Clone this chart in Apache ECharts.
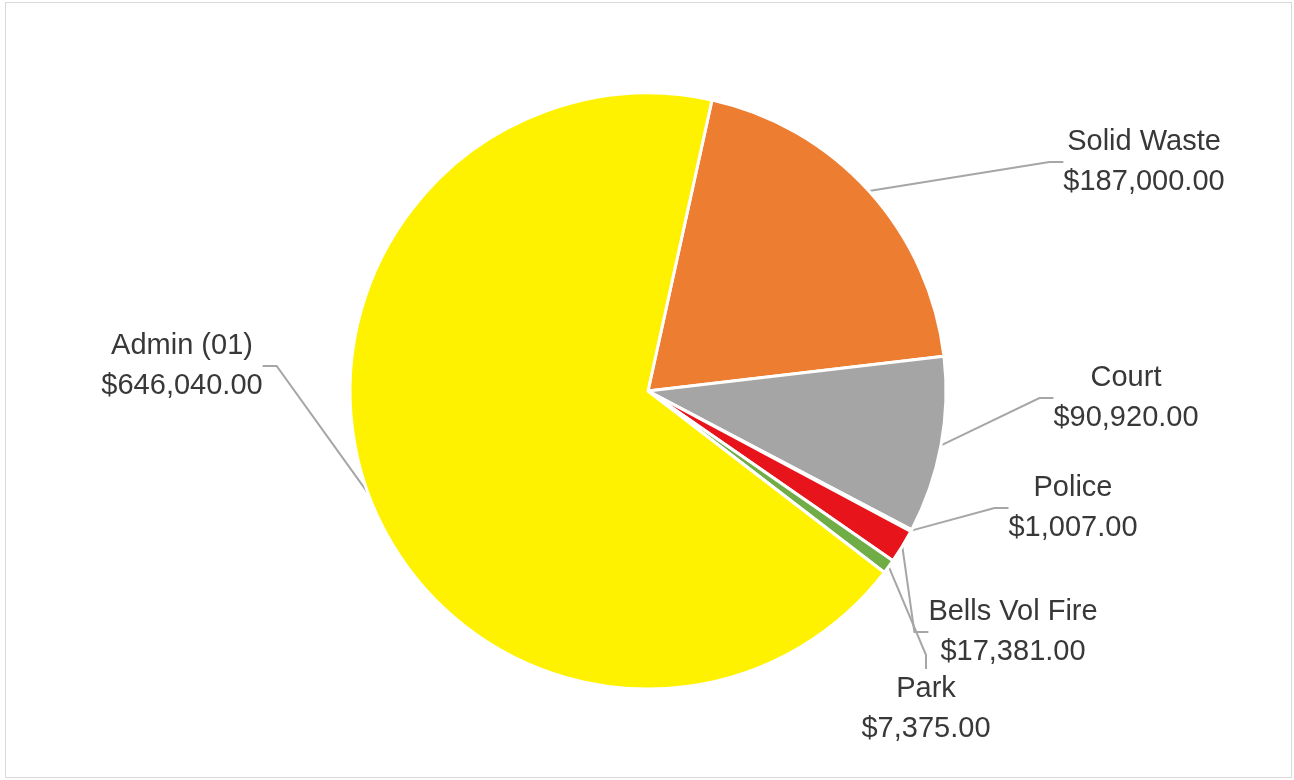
<!DOCTYPE html>
<html>
<head>
<meta charset="utf-8">
<script src="https://cdn.jsdelivr.net/npm/echarts@6/dist/echarts.min.js"></script>
<style>
  html, body { margin: 0; padding: 0; background: #ffffff; }
  #wrap { position: relative; width: 1294px; height: 780px; }
  #chart { position: absolute; left: 0; top: 0; width: 1294px; height: 780px; }
  #frame { position: absolute; left: 5px; top: 2px; width: 1285px; height: 774px; border: 1px solid #d9d9d9; pointer-events: none; }
</style>
</head>
<body>
<div id="wrap">
  <div id="chart"></div>
  <div id="frame"></div>
</div>
<script>
// Data (clockwise from the top, as drawn)
const categories = ['Solid Waste', 'Court', 'Police', 'Bells Vol Fire', 'Park', 'Admin (01)'];
const values = [187000, 90920, 1007, 17381, 7375, 646040];
const colors = ['#ED7D31', '#A5A5A5', '#4472C4', '#E8141B', '#70AD47', '#FFF200'];

// Label anchor positions (layout only)
const labelPos = [
  [1144, 162],
  [1126, 398],
  [1073, 508],
  [1013, 632],
  [926, 709],
  [182, 366]
];

function money(v) {
  return '$' + v.toLocaleString('en-US', { minimumFractionDigits: 2, maximumFractionDigits: 2 });
}

const chart = echarts.init(document.getElementById('chart'), null, { renderer: 'canvas' });
chart.setOption({
  backgroundColor: '#ffffff',
  animation: false,
  series: [{
    type: 'pie',
    center: [648, 391],
    radius: 298,
    startAngle: 77.6,
    clockwise: true,
    avoidLabelOverlap: false,
    data: categories.map((c, i) => ({
      name: c,
      value: values[i],
      itemStyle: { color: colors[i] }
    })),
    itemStyle: { borderColor: '#ffffff', borderWidth: 3 },
    label: {
      show: true,
      formatter: p => p.name + '\n' + money(p.value),
      fontFamily: 'Liberation Sans, Arial, sans-serif',
      fontSize: 29,
      lineHeight: 40,
      color: '#383838',
      align: 'center'
    },
    labelLine: {
      show: true,
      length: 20,
      length2: 14,
      smooth: false,
      lineStyle: { color: '#A6A6A6', width: 2 }
    },
    labelLayout: function (params) {
      const p = labelPos[params.dataIndex];
      return { x: p[0], y: p[1], align: 'center', verticalAlign: 'middle' };
    },
    emphasis: { disabled: true }
  }]
});
</script>
</body>
</html>
